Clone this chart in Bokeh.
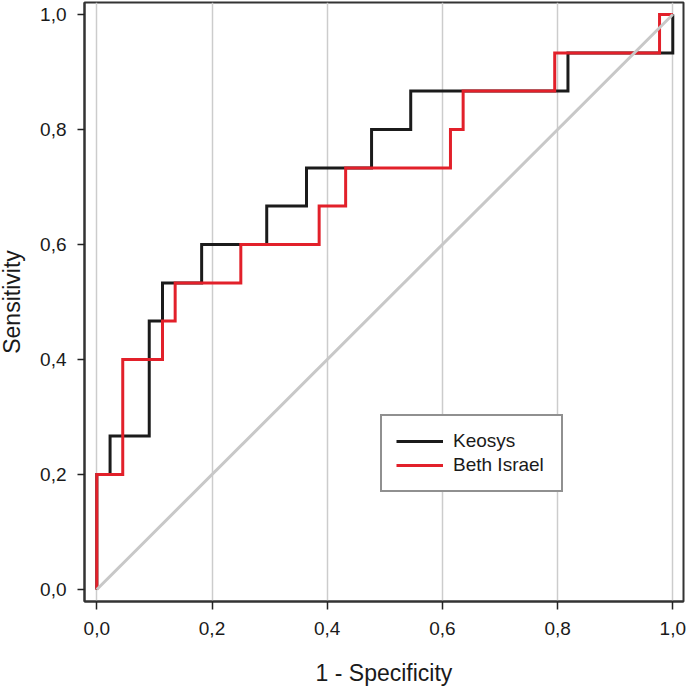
from bokeh.plotting import figure
from bokeh.models import Range1d, FixedTicker, Legend, LegendItem
from bokeh.embed import file_html
from bokeh.resources import INLINE

# ROC vertices (1 - specificity, sensitivity)
keosys_fpr = [0.0, 0.0, 0.023, 0.091, 0.114, 0.182, 0.295, 0.364, 0.477, 0.545, 0.818, 1.0]
keosys_tpr = [0.0, 0.2, 0.267, 0.467, 0.533, 0.600, 0.667, 0.733, 0.800, 0.867, 0.933, 1.0]

beth_fpr = [0.0, 0.0, 0.045, 0.114, 0.136, 0.250, 0.386, 0.432, 0.614, 0.636, 0.795, 0.977, 1.0]
beth_tpr = [0.0, 0.2, 0.400, 0.467, 0.533, 0.600, 0.667, 0.733, 0.800, 0.867, 0.933, 1.000, 1.0]

ref_x = [0.0, 1.0]
ref_y = [0.0, 1.0]

x_ticks = [0.0, 0.2, 0.4, 0.6, 0.8, 1.0]
y_ticks = [0.0, 0.2, 0.4, 0.6, 0.8, 1.0]
x_tick_labels = ["0,0", "0,2", "0,4", "0,6", "0,8", "1,0"]
y_tick_labels = ["0,0", "0,2", "0,4", "0,6", "0,8", "1,0"]

FONT = "Liberation Sans"
TXT = "#1a1a1a"

p = figure(width=691, height=692, output_backend="svg", toolbar_location=None,
           x_range=Range1d(-0.0214, 1.0186), y_range=Range1d(-0.0209, 1.0209),
           min_border_left=85, min_border_right=4, min_border_top=6, min_border_bottom=87)
p.styles = {"margin": "-4px 0px -4px -4px"}
p.background_fill_color = "white"
p.border_fill_color = "white"
p.outline_line_color = "#333333"
p.outline_line_width = 2

# grid
p.xgrid.ticker = FixedTicker(ticks=x_ticks)
p.xgrid.grid_line_color = "#cccccc"
p.xgrid.grid_line_width = 1.5
p.ygrid.grid_line_color = None

# axes
p.xaxis.ticker = FixedTicker(ticks=x_ticks)
p.yaxis.ticker = FixedTicker(ticks=y_ticks)
p.xaxis.major_label_overrides = dict(zip(x_ticks, x_tick_labels))
p.yaxis.major_label_overrides = dict(zip(y_ticks, y_tick_labels))
for ax in (p.xaxis, p.yaxis):
    ax.axis_line_color = "#333333"
    ax.axis_line_width = 2
    ax.major_tick_line_color = "#222222"
    ax.major_tick_line_width = 1.5
    ax.major_tick_in = 0
    ax.minor_tick_line_color = None
    ax.major_label_text_font = FONT
    ax.major_label_text_font_size = "19px"
    ax.major_label_text_color = TXT
    ax.axis_label_text_font = FONT
    ax.axis_label_text_font_size = "23px"
    ax.axis_label_text_font_style = "normal"
    ax.axis_label_text_color = TXT
p.xaxis.major_tick_out = 8
p.yaxis.major_tick_out = 7
p.xaxis.major_label_standoff = 12
p.yaxis.major_label_standoff = 11
p.xaxis.axis_label_standoff = 22
p.yaxis.axis_label_standoff = 12
p.xaxis.axis_label = "1 - Specificity"
p.yaxis.axis_label = "Sensitivity"

r1 = p.step(keosys_fpr, keosys_tpr, mode="after", line_color="#1b1b1b", line_width=3, line_join="miter")
r2 = p.step(beth_fpr, beth_tpr, mode="after", line_color="#e2202a", line_width=3, line_join="miter")
p.line(ref_x, ref_y, line_color="#c8c8c8", line_width=3)

legend = Legend(items=[LegendItem(label="Keosys", renderers=[r1]),
                       LegendItem(label="Beth Israel", renderers=[r2])],
                location=(296, 109))
legend.margin = 0
legend.padding = 14
legend.spacing = 2
legend.glyph_width = 47
legend.glyph_height = 20
legend.label_height = 20
legend.label_width = 94
legend.label_standoff = 10
legend.label_text_font = FONT
legend.label_text_font_size = "19px"
legend.label_text_color = TXT
legend.border_line_color = "#222222"
legend.border_line_width = 2
legend.background_fill_color = "white"
legend.background_fill_alpha = 1.0
p.add_layout(legend)

open("out.html", "w").write(file_html(p, INLINE))
